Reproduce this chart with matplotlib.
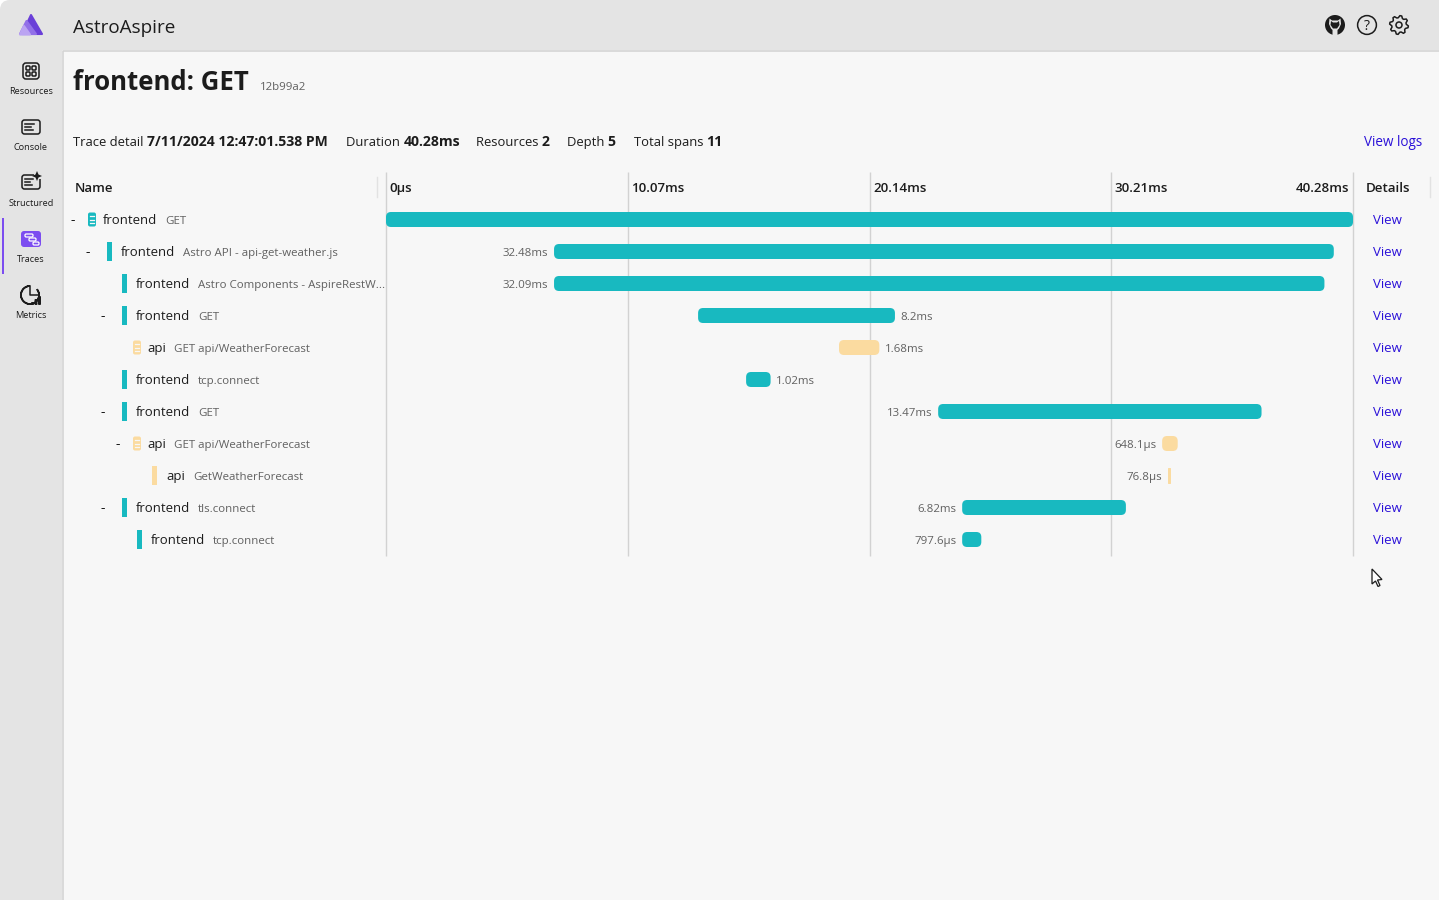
"""AstroAspire trace detail view: span waterfall with the dashboard chrome around it."""

import matplotlib

matplotlib.use("Agg")
import matplotlib.pyplot as plt
import numpy as np
from matplotlib.patches import Circle, FancyBboxPatch, Polygon, Rectangle, Wedge

plt.rcParams["font.family"] = ["Open Sans", "DejaVu Sans"]

SERVICES = ["frontend", "frontend", "frontend", "frontend", "api", "frontend",
            "frontend", "api", "api", "frontend", "frontend"]
OPERATIONS = ["GET", "Astro API - api-get-weather.js", "Astro Components - AspireRestW...",
              "GET", "GET api/WeatherForecast", "tcp.connect", "GET",
              "GET api/WeatherForecast", "GetWeatherForecast", "tls.connect", "tcp.connect"]
LEVELS = [0, 1, 2, 2, 3, 2, 2, 3, 4, 2, 3]
HAS_CHILDREN = [True, True, False, True, False, False, True, True, False, True, False]
IS_ENTRY = [True, False, False, False, True, False, False, True, False, False, False]
STARTS_MS = [0.0, 7.0, 7.0, 13.0, 18.87, 15.0, 23.0, 32.33, 32.58, 24.0, 24.0]
DURATIONS_MS = [40.28, 32.48, 32.09, 8.2, 1.68, 1.02, 13.47, 0.648, 0.0768, 6.82, 0.7976]
DURATION_LABELS = ["", "32.48ms", "32.09ms", "8.2ms", "1.68ms", "1.02ms", "13.47ms",
                   "648.1µs", "76.8µs", "6.82ms", "797.6µs"]
LABEL_ON_RIGHT = [False, False, False, True, True, True, False, False, False, False, False]
TICKS_MS = [0.0, 10.07, 20.14, 30.21, 40.28]
TICK_LABELS = ["0µs", "10.07ms", "20.14ms", "30.21ms", "40.28ms"]
NAV_ITEMS = ["Resources", "Console", "Structured", "Traces", "Metrics"]
SUMMARY = [("Trace detail ", "7/11/2024 12:47:01.538 PM", 73), ("Duration ", "40.28ms", 346.5),
           ("Resources ", "2", 476), ("Depth ", "5", 567), ("Total spans ", "11", 633.5)]

TEAL = "#18b9c0"
SAND = "#fbdba0"
INK = "#1c1c1c"
GREY = "#616161"
LINK = "#2a10d8"
RULE = "#d2d2d2"
PURPLE = "#7c4df0"
BG = "#f7f7f7"
CHROME = "#e4e4e4"

W, H = 1439, 900


def px(size):
    return size * 0.72


def rounded(ax, x, y, w, h, r, **kw):
    ax.add_patch(FancyBboxPatch((x + r, y + r), w - 2 * r, h - 2 * r,
                                boxstyle=f"round,pad={r},rounding_size={r}", **kw))


def draw_entry_icon(ax, x, cy, color):
    rounded(ax, x, cy - 7, 8, 14, 2, fc=color, ec="none")
    for dy in (-3.5, 0.5, 3.5):
        ax.plot([x + 2.2, x + 5.8], [cy + dy, cy + dy], color=BG, lw=0.9)


def draw_nav_icons(ax):
    line = dict(fc="none", ec=INK, lw=1.1)
    # Resources
    rounded(ax, 23, 63, 16, 16, 3, **line)
    for ix in (26, 32):
        for iy in (66, 72):
            rounded(ax, ix, iy, 4, 4, 1, **line)
    # Console
    rounded(ax, 22, 120, 18, 14, 2.5, **line)
    for y0, x1 in ((124, 34), (127, 31), (130, 33)):
        ax.plot([25, x1], [y0, y0], color=INK, lw=1.1)
    # Structured
    rounded(ax, 22, 175, 18, 14, 2.5, **line)
    for y0, x1 in ((179, 33), (182, 30), (185, 32)):
        ax.plot([25, x1], [y0, y0], color=INK, lw=1.1)
    ax.add_patch(Rectangle((34, 170), 9, 9, fc=CHROME, ec="none"))
    ax.add_patch(Polygon([(37, 171), (38.5, 174.5), (42, 176), (38.5, 177.5), (37, 181),
                          (35.5, 177.5), (32, 176), (35.5, 174.5)], fc=INK, ec="none"))
    # Traces (active)
    ax.add_patch(Rectangle((2, 218), 2, 56, fc=PURPLE, ec="none"))
    rounded(ax, 21, 231, 20, 16, 3, fc=PURPLE, ec="none")
    for x0, y0, w0 in ((25, 234, 8), (29, 238, 7), (33, 242, 6)):
        rounded(ax, x0, y0, w0, 3, 1.2, fc=PURPLE, ec="white", lw=0.9)
    # Metrics
    ax.add_patch(Wedge((30, 295), 9, -40, 270, width=0, fc="none", ec=INK, lw=1.2))
    ax.plot([30, 30, 39], [286, 295, 295], color=INK, lw=1.1)
    for x0, y0 in ((31, 302), (34.5, 299), (38, 296)):
        rounded(ax, x0, y0, 3, 305 - y0, 1, fc=INK, ec="none")


def draw_top_icons(ax):
    # GitHub mark
    ax.add_patch(Circle((1335, 25), 10, fc=INK, ec="none"))
    ax.add_patch(Polygon([(1329.5, 18.5), (1332, 20.5), (1338, 20.5), (1340.5, 18.5),
                          (1341, 24), (1339, 28.5), (1337.5, 30), (1337.5, 36), (1332.5, 36),
                          (1332.5, 30), (1331, 28.5), (1329, 24)], fc=CHROME, ec="none"))
    ax.add_patch(Polygon([(1331, 21), (1333, 22.5), (1337, 22.5), (1339, 21), (1339.5, 25),
                          (1337, 28.5), (1333, 28.5), (1330.5, 25)], fc=INK, ec="none"))
    # Help
    ax.add_patch(Circle((1367, 25), 9.4, fc="none", ec=INK, lw=1.1))
    ax.text(1367, 26, "?", ha="center", va="center", fontsize=px(14), color=INK)
    # Settings: outline with eight shallow teeth
    angles = np.deg2rad(np.arange(0, 360, 11.25) + 5.6)
    radii = np.tile([9.4, 9.4, 7.3, 7.3], 8)
    gear = np.column_stack([1399 + radii * np.cos(angles), 25 + radii * np.sin(angles)])
    ax.add_patch(Polygon(gear, fc="none", ec=INK, lw=1.1, joinstyle="round"))
    ax.add_patch(Circle((1399, 25), 3, fc="none", ec=INK, lw=1.1))


def draw_chrome(ax):
    rounded(ax, 0, 0, W + 12, H + 12, 10, fc=CHROME, ec="none")
    ax.add_patch(Rectangle((62, 50), W - 62, H - 50, fc=BG, ec="none"))
    ax.plot([62.5, 62.5, W], [H, 50.5, 50.5], color=RULE, lw=1.1)

    # logo
    ax.add_patch(Polygon([(31, 15), (42, 34), (22, 34)], fc="#6a3fd8", ec="#6a3fd8", lw=1.5, joinstyle="round"))
    ax.add_patch(Polygon([(26.5, 21), (36, 34), (20, 34)], fc="#9270e8", ec="#9270e8", lw=1.5, joinstyle="round"))
    ax.add_patch(Polygon([(24, 26), (30, 34.5), (20, 34.5)], fc="#bba4f2", ec="#bba4f2", lw=1.5, joinstyle="round"))

    ax.text(73, 33, "AstroAspire", fontsize=px(18.9), color=INK, va="baseline")
    ax.text(73, 90, "frontend: GET", fontsize=px(25.7), color=INK, va="baseline", fontweight="bold")
    ax.text(260, 90, "12b99a2", fontsize=px(11.5), color=GREY, va="baseline")

    for (label, value, x0) in SUMMARY:
        t = ax.text(x0, 146, label, fontsize=px(13), color=INK, va="baseline")
        box = t.get_window_extent(ax.figure.canvas.get_renderer())
        ax.text(x0 + box.width, 146, value, fontsize=px(14), color=INK, va="baseline", fontweight="bold")
    ax.text(1422, 146, "View logs", fontsize=px(13.5), color=LINK, va="baseline", ha="right")

    for label, y0 in zip(NAV_ITEMS, (94, 150, 206, 262, 318)):
        ax.text(31, y0, label, fontsize=px(9.2), color=INK, va="baseline", ha="center")
    draw_nav_icons(ax)
    draw_top_icons(ax)

    # cursor
    ax.add_patch(Polygon([(1372, 569), (1372, 584), (1375.5, 581), (1378, 586.5), (1380, 585.5),
                          (1377.5, 580), (1382, 579.5)], fc="white", ec=INK, lw=0.9))


def draw_name_column(ax):
    ax.text(75, 192, "Name", fontsize=px(13.3), color=INK, va="baseline", fontweight="semibold")
    ax.plot([376.5, 376.5], [177, 197], color="#e2e2e2", lw=1)
    ax.plot([1429.5, 1429.5], [177, 197], color="#e2e2e2", lw=1)
    ax.text(1366, 192, "Details", fontsize=px(13.4), color=INK, va="baseline", fontweight="semibold")

    for i, (service, operation, level) in enumerate(zip(SERVICES, OPERATIONS, LEVELS)):
        cy = 219 + 32 * i
        color = TEAL if service == "frontend" else SAND
        if HAS_CHILDREN[i]:
            ax.text(73 + 15 * level, cy + 1.5, "-", fontsize=px(14), color=INK, va="center", ha="center")
        if IS_ENTRY[i]:
            x0 = 88 + 15 * level
            draw_entry_icon(ax, x0, cy + 0.5, color)
            text_x = x0 + 14.5
        else:
            x0 = 92 + 15 * level
            ax.add_patch(Rectangle((x0, cy - 9), 5, 19, fc=color, ec="none"))
            text_x = x0 + 14
        name = ax.text(text_x, cy + 5, service, fontsize=px(13.1), color=INK, va="baseline")
        box = name.get_window_extent(ax.figure.canvas.get_renderer())
        ax.text(text_x + box.width + 8, cy + 5, operation, fontsize=px(11.5), color=GREY, va="baseline")
        ax.text(1387, cy + 5, "View", fontsize=px(13.2), color=LINK, va="baseline", ha="center")


def draw_waterfall(ax):
    ax.set_xlim(0, TICKS_MS[-1])
    ax.set_ylim(len(SERVICES) - 0.5, -1.5)
    ax.axis("off")
    for tick in TICKS_MS:
        ax.axvline(tick, color=RULE, lw=1, zorder=1, clip_on=False, solid_capstyle="butt")

    for tick, label in zip(TICKS_MS, TICK_LABELS):
        last = tick == TICKS_MS[-1]
        ax.annotate(label, (tick, -1), xytext=(-3.5 * 0.72 if last else 3.5 * 0.72, -3.2),
                    textcoords="offset points", ha="right" if last else "left", va="baseline",
                    fontsize=px(13.2), color=INK, fontweight="semibold")

    for i, (start, duration) in enumerate(zip(STARTS_MS, DURATIONS_MS)):
        color = TEAL if SERVICES[i] == "frontend" else SAND
        if duration < 0.2:
            ax.barh(i, duration, left=start, height=15 / 32, color=color, ec=color, lw=0.7, zorder=2)
        else:
            r = 5 / 24
            ax.add_patch(FancyBboxPatch((start + r, i - 7.5 / 32 + r * 0.75),
                                        duration - 2 * r, 15 / 32 - 2 * r * 0.75,
                                        boxstyle=f"round,pad={r},rounding_size={r}",
                                        mutation_aspect=0.75, fc=color, ec="none", zorder=2))
        if LABEL_ON_RIGHT[i]:
            ax.annotate(DURATION_LABELS[i], (start + duration, i), xytext=(5.5 * 0.72, -3.2),
                        textcoords="offset points", ha="left", va="baseline",
                        fontsize=px(11.5), color=GREY)
        elif DURATION_LABELS[i]:
            ax.annotate(DURATION_LABELS[i], (start, i), xytext=(-6 * 0.72, -3.2),
                        textcoords="offset points", ha="right", va="baseline",
                        fontsize=px(11.5), color=GREY)


def main():
    fig = plt.figure(figsize=(W / 100, H / 100), dpi=100, facecolor="white")

    chrome = fig.add_axes([0, 0, 1, 1])
    chrome.set_xlim(0, W)
    chrome.set_ylim(H, 0)
    chrome.axis("off")
    fig.canvas.draw()
    draw_chrome(chrome)
    draw_name_column(chrome)

    # 386..1353 px across, 171.5..555.5 px down
    waterfall = fig.add_axes([386 / W, 1 - 555.5 / H, 967 / W, 384 / H])
    waterfall.patch.set_alpha(0)
    draw_waterfall(waterfall)

    fig.savefig("out.png", dpi=100, facecolor="white")
    plt.close(fig)


if __name__ == "__main__":
    main()
